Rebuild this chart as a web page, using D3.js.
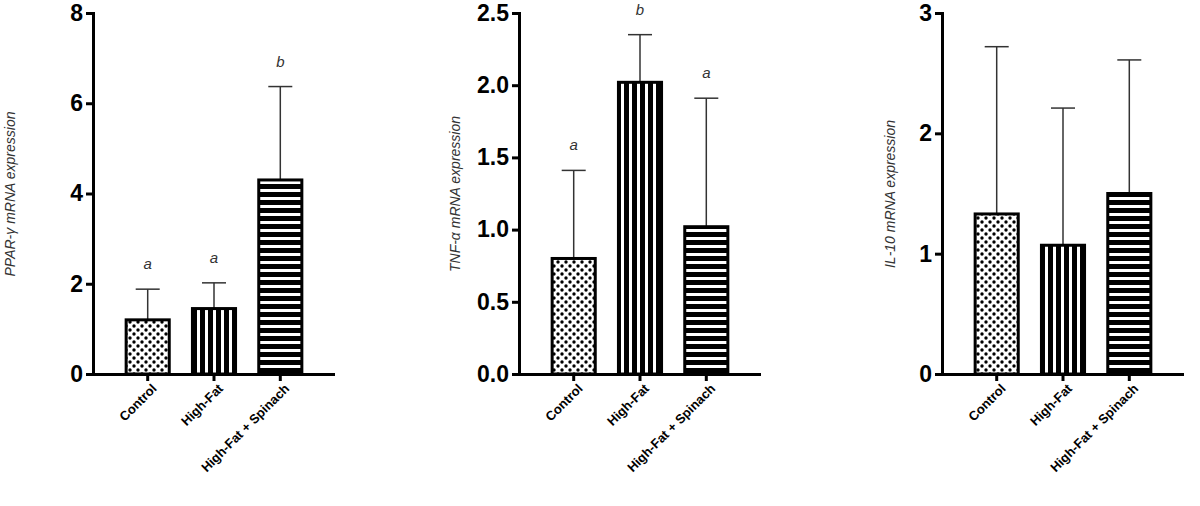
<!DOCTYPE html><html><head><script src="https://cdn.jsdelivr.net/npm/d3@7"></script>
<style>body{margin:0;background:#fff}</style></head><body><svg id="c" width="1200" height="506"></svg>
<script>
const categories=["Control","High-Fat","High-Fat + Spinach"];
const ppar=[1.2,1.45,4.3], pparErr=[0.68,0.57,2.07], pparLetters=["a","a","b"];
const tnf=[0.8,2.02,1.02], tnfErr=[0.61,0.33,0.89], tnfLetters=["a","b","a"];
const il10=[1.33,1.07,1.5], il10Err=[1.39,1.14,1.11], il10Letters=["","",""];
const panels=[
 {x0:93,max:8,ticks:[0,2,4,6,8],fmt:d3.format("d"),label:"PPAR-γ mRNA expression",v:ppar,e:pparErr,l:pparLetters,lab:15},
 {x0:519,max:2.5,ticks:[0,0.5,1,1.5,2,2.5],fmt:d3.format(".1f"),label:"TNF-α mRNA expression",v:tnf,e:tnfErr,l:tnfLetters,lab:460},
 {x0:942,max:3,ticks:[0,1,2,3],fmt:d3.format("d"),label:"IL-10 mRNA expression",v:il10,e:il10Err,l:il10Letters,lab:895}];
const svg=d3.select("#c");
const defs=svg.append("defs");
const pd=defs.append("pattern").attr("id","dots").attr("width",8).attr("height",8).attr("patternUnits","userSpaceOnUse");
pd.append("rect").attr("width",8).attr("height",8).attr("fill","#fff");
pd.append("circle").attr("cx",2).attr("cy",2).attr("r",1.7).attr("fill","#000");
pd.append("circle").attr("cx",6).attr("cy",6).attr("r",1.7).attr("fill","#000");
const pv=defs.append("pattern").attr("id","vs").attr("width",8).attr("height",8).attr("patternUnits","userSpaceOnUse");
pv.append("rect").attr("width",8).attr("height",8).attr("fill","#fff");
pv.append("rect").attr("width",5).attr("height",8).attr("fill","#000");
const ph=defs.append("pattern").attr("id","hs").attr("width",8).attr("height",8).attr("patternUnits","userSpaceOnUse");
ph.append("rect").attr("width",8).attr("height",8).attr("fill","#fff");
ph.append("rect").attr("width",8).attr("height",5).attr("fill","#000");
const fills=["url(#dots)","url(#vs)","url(#hs)"];
panels.forEach(p=>{
 const y=d3.scaleLinear().domain([0,p.max]).range([374,13]);
 const x=d3.scaleBand().domain(categories).range([p.x0,p.x0+242]).paddingInner(0.35).paddingOuter(0.5);
 const g=svg.append("g");
 p.v.forEach((v,i)=>{
  const cx=x(categories[i])+x.bandwidth()/2;
  g.append("line").attr("x1",cx).attr("x2",cx).attr("y1",y(v)).attr("y2",y(v+p.e[i])).attr("stroke","#333").attr("stroke-width",1.5);
  g.append("line").attr("x1",cx-12).attr("x2",cx+12).attr("y1",y(v+p.e[i])).attr("y2",y(v+p.e[i])).attr("stroke","#333").attr("stroke-width",1.5);
  g.append("rect").attr("x",x(categories[i])).attr("width",x.bandwidth()).attr("y",y(v)).attr("height",y(0)-y(v)).attr("fill",fills[i]).attr("stroke","#000").attr("stroke-width",3);
  if(p.l[i]) g.append("text").attr("x",cx).attr("y",y(v+p.e[i])-20).attr("text-anchor","middle").attr("font-family","Liberation Sans,Arial").attr("font-style","italic").attr("font-size",15).attr("fill","#333").text(p.l[i]);
 });
 const ay=g.append("g").attr("transform",`translate(${p.x0},0)`).call(d3.axisLeft(y).tickValues(p.ticks).tickFormat(p.fmt).tickSize(7));
 ay.selectAll("text").attr("font-family","Liberation Sans,Arial").attr("font-weight","bold").attr("font-size",23).attr("fill","#000");
 const ax=g.append("g").attr("transform","translate(0,374)").call(d3.axisBottom(x).tickSize(7).tickSizeOuter(0));
 ax.select(".domain").attr("d",`M${p.x0},0.5H${p.x0+242}`);
 ax.selectAll("text").attr("font-family","Liberation Sans,Arial").attr("font-weight","bold").attr("font-size",13).attr("fill","#000")
   .attr("text-anchor","end").attr("transform","rotate(-45)").attr("dx","-0.3em").attr("dy","0.6em");
 g.selectAll(".domain,.tick line").attr("stroke","#000").attr("stroke-width",3);
 g.append("text").attr("transform",`translate(${p.lab},${194}) rotate(-90)`).attr("text-anchor","middle").attr("font-family","Liberation Sans,Arial").attr("font-style","italic").attr("font-size",14).attr("fill","#333").text(p.label);
});
</script></body></html>
